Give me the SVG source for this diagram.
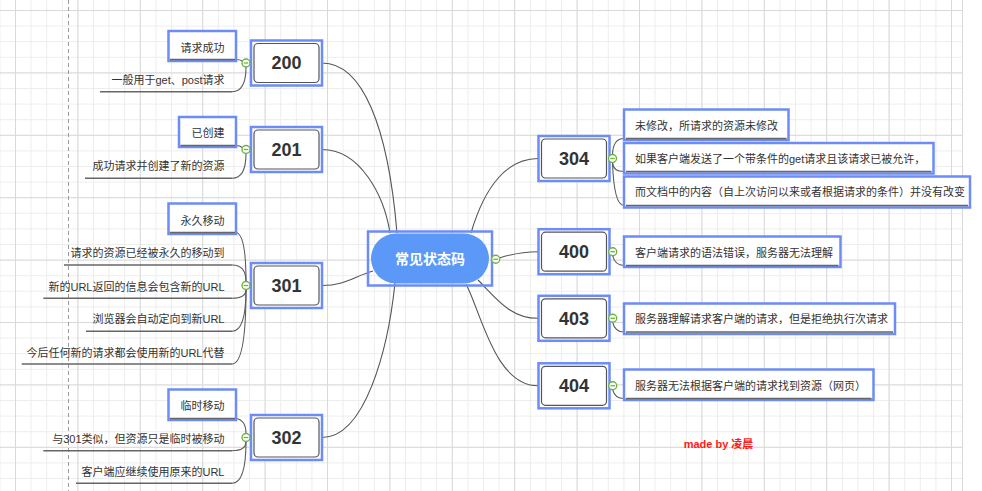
<svg xmlns="http://www.w3.org/2000/svg" width="982" height="491" viewBox="0 0 982 491">
<defs>
<style>
.conn{fill:none;stroke:#555;stroke-width:1.1}
.sub{fill:none;stroke:#5a5a5a;stroke-width:1.1}
.sel{fill:#fff;stroke:#6d8cf7;stroke-width:2.5}
.card{fill:#fff;stroke:#555;stroke-width:1.2}
.num{font-family:"Liberation Sans","Noto Sans CJK SC",sans-serif;font-weight:bold;font-size:18px;fill:#333;text-anchor:middle}
.t{font-family:"Liberation Sans","Noto Sans CJK SC",sans-serif;font-size:11px;fill:#333}
.r{text-anchor:end}
.ul{stroke:#666;stroke-width:1.5;fill:none}
.tog circle{fill:#fff;stroke:#6db33f;stroke-width:1.4}
.tog line{stroke:#6db33f;stroke-width:1.3}
</style>
<pattern id="minor" patternUnits="userSpaceOnUse" x="15" y="10" width="15.6" height="15.6">
<path d="M0.5,0V15.6M0,0.5H15.6" stroke="#ededed" stroke-width="1" fill="none"/>
</pattern>
<pattern id="major" patternUnits="userSpaceOnUse" x="15" y="10" width="62.4" height="62.4">
<path d="M0.5,0V62.4M0,0.5H62.4" stroke="#d9d9d9" stroke-width="1" fill="none"/>
</pattern>
<g id="tg" class="tog"><circle r="4"/><line x1="-2.3" y1="0" x2="2.3" y2="0"/></g>
</defs>
<rect width="982" height="491" fill="#fff"/>
<g id="grid">
<rect x="0" y="0" width="963" height="491" fill="url(#minor)"/>
<rect x="0" y="0" width="963" height="491" fill="url(#major)"/>
<line x1="962.5" y1="0" x2="962.5" y2="491" stroke="#d9d9d9"/>
<line x1="68.5" y1="0" x2="68.5" y2="491" stroke="#9a9a9a" stroke-dasharray="4,3"/>
</g>
<g id="connectors">
<path class="conn" d="M322,63 C362,63 388,125 397,233"/>
<path class="conn" d="M322,149.5 C360,149.5 384,195 390,233"/>
<path class="conn" d="M322,285.5 C345,285.5 355,276 373,271"/>
<path class="conn" d="M322,437.5 C365,437.5 388,350 395,283"/>
<path class="conn" d="M538,158.5 C508,158.5 485,185 471,233"/>
<path class="conn" d="M499.5,258 C515,253 525,251.7 538,251.7"/>
<path class="conn" d="M478,280 C496,298 510,318.3 538,318.3"/>
<path class="conn" d="M466,284 C481,312 495,385.8 538,385.8"/>
<path class="sub" d="M236,59.5 Q240,59.5 242.3,61"/>
<path class="sub" d="M232,91.7 Q246,91.7 246,67"/>
<path class="sub" d="M236,145.5 Q240,145.5 242.3,147.5"/>
<path class="sub" d="M232,178.3 Q246,178.3 246,153.5"/>
<path class="sub" d="M236,232.5 Q246,234 246,281.5"/>
<path class="sub" d="M232,265 Q246,265 246,281.5"/>
<path class="sub" d="M232,298.3 Q246,298.3 246,289.5"/>
<path class="sub" d="M232,331.3 Q246,331.3 246,289.5"/>
<path class="sub" d="M232,364 Q246,364 246,289.5"/>
<path class="sub" d="M236,418.5 Q246,420 246,433.5"/>
<path class="sub" d="M232,450.7 Q246,450.7 246,441.5"/>
<path class="sub" d="M232,483.3 Q246,483.3 246,441.5"/>
<path class="sub" d="M612.5,154.5 Q613,138.5 624,138.5"/>
<path class="sub" d="M612.5,162.5 Q613,171.5 624,171.5"/>
<path class="sub" d="M612.5,162.5 Q614,205.5 624,205.5"/>
<path class="sub" d="M612.7,255.7 Q615,265.5 624,265.5"/>
<path class="sub" d="M612.7,322.3 Q615,332 624,332"/>
<path class="sub" d="M612.7,389.8 Q615,398.5 624,398.5"/>
</g>
<g id="root">
<rect class="sel" x="368" y="231.5" width="124" height="54" fill="none" style="fill:none"/>
<rect x="371" y="233.5" width="118" height="50" rx="25" fill="#5b98f7"/>
<text x="430" y="263.5" font-family="'Liberation Sans','Noto Sans CJK SC',sans-serif" font-size="14" font-weight="bold" fill="#fff" text-anchor="middle">常见状态码</text>
<use href="#tg" x="495.7" y="259.3"/>
</g>
<g id="n200">
<rect class="sel" x="251" y="40.5" width="71" height="45"/>
<rect class="card" x="254" y="43.5" width="65" height="39" rx="4"/>
<text class="num" x="286.5" y="69.3">200</text>
<use href="#tg" x="246" y="63"/>
</g>
<g id="n200a">
<rect class="sel" x="168.5" y="31" width="67.5" height="30"/>
<line class="ul" x1="170" y1="59.5" x2="235" y2="59.5"/>
<text class="t r" x="224.5" y="51.7">请求成功</text>
</g>
<g id="n200b">
<line class="ul" x1="100" y1="91.7" x2="232" y2="91.7"/>
<text class="t r" x="224.5" y="84">一般用于get、post请求</text>
</g>
<g id="n201">
<rect class="sel" x="251" y="127" width="71" height="45"/>
<rect class="card" x="254" y="130" width="65" height="39" rx="4"/>
<text class="num" x="286.5" y="155.8">201</text>
<use href="#tg" x="246" y="149.5"/>
</g>
<g id="n201a">
<rect class="sel" x="179" y="117" width="57" height="30"/>
<line class="ul" x1="180.5" y1="145.5" x2="235" y2="145.5"/>
<text class="t r" x="224.5" y="137.3">已创建</text>
</g>
<g id="n201b">
<line class="ul" x1="85" y1="178.3" x2="232" y2="178.3"/>
<text class="t r" x="224.5" y="169.7">成功请求并创建了新的资源</text>
</g>
<g id="n301">
<rect class="sel" x="251" y="263" width="71" height="45"/>
<rect class="card" x="254" y="266" width="65" height="39" rx="4"/>
<text class="num" x="286.5" y="291.8">301</text>
<use href="#tg" x="246" y="285.5"/>
</g>
<g id="n301a">
<rect class="sel" x="168.5" y="203.5" width="67.5" height="30.5"/>
<line class="ul" x1="170" y1="232.5" x2="235" y2="232.5"/>
<text class="t r" x="224.5" y="224.7">永久移动</text>
</g>
<g id="n301b">
<line class="ul" x1="64" y1="265" x2="232" y2="265"/>
<text class="t r" x="224.5" y="256.7">请求的资源已经被永久的移动到</text>
</g>
<g id="n301c">
<line class="ul" x1="43.3" y1="298.3" x2="232" y2="298.3"/>
<text class="t r" x="224.5" y="290.7">新的URL返回的信息会包含新的URL</text>
</g>
<g id="n301d">
<line class="ul" x1="86" y1="331.3" x2="232" y2="331.3"/>
<text class="t r" x="224.5" y="323">浏览器会自动定向到新URL</text>
</g>
<g id="n301e">
<line class="ul" x1="21.7" y1="364" x2="232" y2="364"/>
<text class="t r" x="224.5" y="356.7">今后任何新的请求都会使用新的URL代替</text>
</g>
<g id="n302">
<rect class="sel" x="251" y="415" width="71" height="45"/>
<rect class="card" x="254" y="418" width="65" height="39" rx="4"/>
<text class="num" x="286.5" y="443.8">302</text>
<use href="#tg" x="246" y="437.5"/>
</g>
<g id="n302a">
<rect class="sel" x="168.5" y="389.5" width="67.5" height="30.5"/>
<line class="ul" x1="170" y1="418.5" x2="235" y2="418.5"/>
<text class="t r" x="224.5" y="409.7">临时移动</text>
</g>
<g id="n302b">
<line class="ul" x1="43.3" y1="450.7" x2="232" y2="450.7"/>
<text class="t r" x="224.5" y="443.3">与301类似，但资源只是临时被移动</text>
</g>
<g id="n302c">
<line class="ul" x1="76" y1="483.3" x2="232" y2="483.3"/>
<text class="t r" x="224.5" y="475.7">客户端应继续使用原来的URL</text>
</g>
<g id="n304">
<rect class="sel" x="538.5" y="136" width="71" height="45"/>
<rect class="card" x="541.5" y="139" width="65" height="39" rx="4"/>
<text class="num" x="574" y="164.8">304</text>
<use href="#tg" x="612.5" y="158.5"/>
</g>
<g id="n304a">
<rect class="sel" x="624" y="109.5" width="164.5" height="30.5"/>
<line class="ul" x1="626" y1="138.5" x2="786.5" y2="138.5"/>
<text class="t" x="635" y="130">未修改，所请求的资源未修改</text>
</g>
<g id="n304b">
<rect class="sel" x="624" y="143" width="309.5" height="30.5"/>
<line class="ul" x1="626" y1="171.5" x2="931.5" y2="171.5"/>
<text class="t" x="635" y="163.3">如果客户端发送了一个带条件的get请求且该请求已被允许，</text>
</g>
<g id="n304c">
<rect class="sel" x="624" y="176.5" width="346" height="31"/>
<line class="ul" x1="626" y1="205.5" x2="968" y2="205.5"/>
<text class="t" x="635" y="195.7">而文档中的内容（自上次访问以来或者根据请求的条件）并没有改变</text>
</g>
<g id="n400">
<rect class="sel" x="538.5" y="229.2" width="71" height="45"/>
<rect class="card" x="541.5" y="232.2" width="65" height="39" rx="4"/>
<text class="num" x="574" y="258">400</text>
<use href="#tg" x="612.7" y="251.7"/>
</g>
<g id="n400a">
<rect class="sel" x="624" y="236.5" width="216.5" height="30.5"/>
<line class="ul" x1="626" y1="265.5" x2="838.5" y2="265.5"/>
<text class="t" x="635" y="256.7">客户端请求的语法错误，服务器无法理解</text>
</g>
<g id="n403">
<rect class="sel" x="538.5" y="295.8" width="71" height="45"/>
<rect class="card" x="541.5" y="298.8" width="65" height="39" rx="4"/>
<text class="num" x="574" y="324.6">403</text>
<use href="#tg" x="612.7" y="318.3"/>
</g>
<g id="n403a">
<rect class="sel" x="624" y="303.5" width="271" height="30.5"/>
<line class="ul" x1="626" y1="332" x2="893" y2="332"/>
<text class="t" x="635" y="323.3">服务器理解请求客户端的请求，但是拒绝执行次请求</text>
</g>
<g id="n404">
<rect class="sel" x="538.5" y="363.3" width="71" height="45"/>
<rect class="card" x="541.5" y="366.3" width="65" height="39" rx="4"/>
<text class="num" x="574" y="392.1">404</text>
<use href="#tg" x="612.7" y="385.8"/>
</g>
<g id="n404a">
<rect class="sel" x="624" y="369.5" width="249.5" height="30.5"/>
<line class="ul" x1="626" y1="398.5" x2="871.5" y2="398.5"/>
<text class="t" x="635" y="389.7">服务器无法根据客户端的请求找到资源（网页）</text>
</g>
<g id="credit">
<text x="718.5" y="448.3" font-family="'Liberation Sans','Noto Sans CJK SC',sans-serif" font-size="11" font-weight="bold" fill="#ff1a1a" text-anchor="middle">made by 凌晨</text>
</g>
</svg>
